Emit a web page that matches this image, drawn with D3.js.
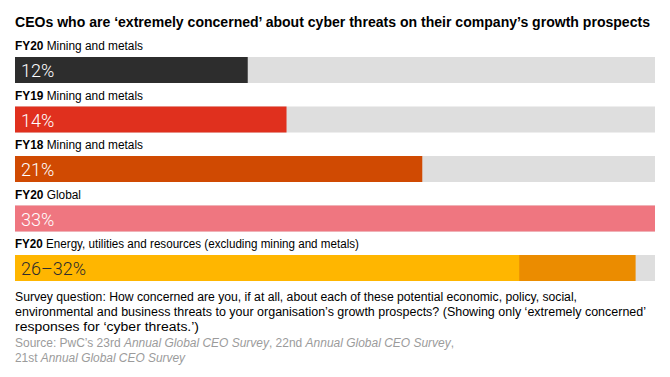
<!DOCTYPE html>
<html>
<head>
<meta charset="utf-8">
<script src="https://cdn.jsdelivr.net/npm/d3@7"></script>
<style>
  body { margin: 0; background: #fff; }
  svg { display: block; }
</style>
</head>
<body>
<div id="chart"></div>
<script>
// Data
const prefixes = ['FY20', 'FY19', 'FY18', 'FY20', 'FY20'];
const groups = ['Mining and metals', 'Mining and metals', 'Mining and metals', 'Global',
    'Energy, utilities and resources (excluding mining and metals)'];
const lowValues = [12, 14, 21, 33, 26];
const highValues = [12, 14, 21, 33, 32];
const valueLabels = ['12%', '14%', '21%', '33%', '26\u201332%'];
const maxValue = 33;

const barColors = ['#2d2d2d', '#e0301e', '#d04a02', '#ef7680', '#ffb600'];
const rangeColor = '#eb8c00';
const trackColor = '#dedede';

const width = 670, height = 377;
const FONT = '"Liberation Sans", Arial, Helvetica, sans-serif';

const svg = d3.select('#chart').append('svg')
    .attr('width', width)
    .attr('height', height);

// Scales
const x = d3.scaleLinear()
    .domain([0, maxValue])
    .range([15, 655]);

const y = d3.scalePoint()
    .domain(d3.range(groups.length))
    .range([57, 255]);

const barHeight = 26;

// Title
svg.append('text')
    .attr('x', 15)
    .attr('y', 27)
    .attr('textLength', 635)
    .attr('lengthAdjust', 'spacingAndGlyphs')
    .style('font-family', FONT)
    .style('font-size', '14px')
    .style('font-weight', 'bold')
    .style('fill', '#000')
    .text('CEOs who are \u2018extremely concerned\u2019 about cyber threats on their company\u2019s growth prospects');

const labelWidths = [128, 128, 128, 66, 344];

const rows = svg.append('g').selectAll('g')
    .data(groups.map((g, i) => i))
    .join('g');

// Row labels
const labels = rows.append('text')
    .attr('x', 15)
    .attr('y', i => y(i) - 7)
    .attr('textLength', i => labelWidths[i])
    .attr('lengthAdjust', 'spacingAndGlyphs')
    .style('font-family', FONT)
    .style('font-size', '12px')
    .style('fill', '#000');
labels.append('tspan')
    .style('font-weight', 'bold')
    .text(i => prefixes[i]);
labels.append('tspan')
    .text(i => ' ' + groups[i]);

// Background track
rows.append('rect')
    .attr('x', x(0))
    .attr('y', i => y(i))
    .attr('width', x(maxValue) - x(0))
    .attr('height', barHeight)
    .attr('fill', trackColor);

// Range part (high end)
rows.filter(i => highValues[i] > lowValues[i]).append('rect')
    .attr('x', x(0))
    .attr('y', i => y(i))
    .attr('width', i => x(highValues[i]) - x(0))
    .attr('height', barHeight)
    .attr('fill', rangeColor);

// Main bar
rows.append('rect')
    .attr('x', x(0))
    .attr('y', i => y(i))
    .attr('width', i => x(lowValues[i]) - x(0))
    .attr('height', barHeight)
    .attr('fill', i => barColors[i]);

// Value labels
rows.append('text')
    .attr('x', x(0) + 6)
    .attr('y', i => y(i) + 20)
    .style('font-family', 'Roboto, sans-serif')
    .style('font-weight', 300)
    .style('font-size', '18px')
    .style('fill', i => i === groups.length - 1 ? '#2d2d2d' : '#fff')
    .text(i => valueLabels[i]);

// Footnote
const noteLines = [
    ['Survey question: How concerned are you, if at all, about each of these potential economic, policy, social,', 562],
    ['environmental and business threats to your organisation\u2019s growth prospects? (Showing only \u2018extremely concerned\u2019', 631],
    ['responses for \u2018cyber threats.\u2019)', 184]
];
noteLines.forEach((d, i) => {
    svg.append('text')
        .attr('x', 15)
        .attr('y', 301 + i * 15)
        .attr('textLength', d[1])
        .attr('lengthAdjust', 'spacingAndGlyphs')
        .style('font-family', FONT)
        .style('font-size', '12px')
        .style('fill', '#000')
        .text(d[0]);
});

// Source
const sourceLines = [
    [[['Source:  PwC\u2019s 23rd ', false], ['Annual Global CEO Survey', true], [', 22nd ', false],
      ['Annual Global CEO Survey', true], [',', false]], 439],
    [[['21st ', false], ['Annual Global CEO Survey', true]], 170]
];
sourceLines.forEach((line, i) => {
    const t = svg.append('text')
        .attr('x', 15)
        .attr('y', 347 + i * 15)
        .attr('textLength', line[1])
        .attr('lengthAdjust', 'spacingAndGlyphs')
        .style('font-family', FONT)
        .style('font-size', '12px')
        .style('fill', '#9b9b9b');
    line[0].forEach(p => {
        t.append('tspan')
            .style('font-style', p[1] ? 'italic' : 'normal')
            .text(p[0]);
    });
});
</script>
</body>
</html>
